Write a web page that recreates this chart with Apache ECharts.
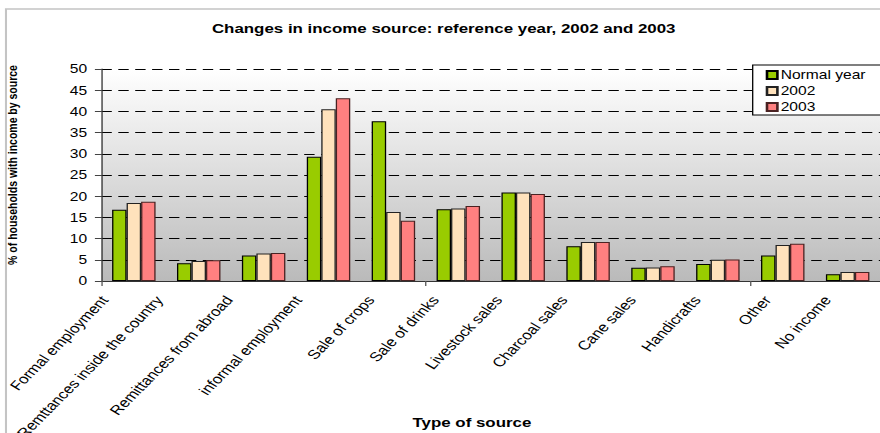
<!DOCTYPE html>
<html>
<head>
<meta charset="utf-8">
<script src="https://cdn.jsdelivr.net/npm/echarts@6/dist/echarts.min.js"></script>
<style>
  html, body { margin: 0; padding: 0; background: #fff; overflow: hidden; width: 880px; height: 433px; }
  /* the chart is laid out narrow and widened horizontally, like the printed figure */
  #chart { width: 677px; height: 433px; transform: scaleX(1.3); transform-origin: 0 0; }
</style>
</head>
<body>
<div id="chart"></div>
<script>
// Income sources (x categories)
const categories = [
  'Formal employment',
  'Remttances inside the country',
  'Remittances from abroad',
  'informal employment',
  'Sale of crops',
  'Sale of drinks',
  'Livestock sales',
  'Charcoal sales',
  'Cane sales',
  'Handicrafts',
  'Other',
  'No income'
];

// % of households with income by source
const normalYear = [16.8, 4.2, 6.0, 29.3, 37.7, 16.9, 20.9, 8.2, 3.1, 4.0, 6.0, 1.6];
const year2002   = [18.4, 4.7, 6.5, 40.5, 16.3, 17.1, 20.9, 9.2, 3.2, 5.0, 8.5, 2.1];
const year2003   = [18.7, 4.9, 6.6, 43.1, 14.2, 17.7, 20.5, 9.2, 3.5, 5.1, 8.8, 2.1];

const seriesNames = ['Normal year', '2002', '2003'];

// value axis ticks
const yMin = 0;
const yMax = 50;
const yStep = 5;

const FONT = '"Liberation Sans", Arial, Helvetica, sans-serif';
const STRETCH = 1.3;
const LABEL_ANGLE = 52.4 * Math.PI / 180;

const measureCtx = document.createElement('canvas').getContext('2d');
measureCtx.font = '13px ' + FONT;
function textWidth(s) { return measureCtx.measureText(s).width; }

// Slanted category names: placed under each category, sliding left a bit more the longer they are
function renderCategoryLabel(params, api) {
  const idx = api.value(0);
  const pt = api.coord([idx, 0]);
  const name = categories[idx];
  const slide = (10 + 0.17 * textWidth(name)) / STRETCH;
  return {
    type: 'text',
    x: pt[0] - slide,
    y: pt[1] + 16.5,
    rotation: LABEL_ANGLE,
    silent: true,
    style: {
      text: name,
      fontSize: 13,
      fontFamily: FONT,
      fill: '#000',
      align: 'right',
      verticalAlign: 'middle'
    }
  };
}

const chart = echarts.init(document.getElementById('chart'), null, { renderer: 'svg' });

chart.setOption({
  animation: false,
  backgroundColor: '#ffffff',
  textStyle: { fontFamily: FONT, color: '#000' },
  graphic: [{
    type: 'rect',
    z: -10,
    shape: { x: 4.6, y: 9, width: 720, height: 500 },
    style: { fill: 'none', stroke: '#c4c4c4', lineWidth: 1.6 }
  }],
  title: {
    text: 'Changes in income source: reference year, 2002 and 2003',
    left: 163,
    top: 22,
    padding: 0,
    textStyle: { fontFamily: FONT, fontSize: 13, fontWeight: 'bold', color: '#000' }
  },
  legend: {
    data: seriesNames,
    orient: 'vertical',
    left: 579,
    top: 65,
    itemWidth: 8,
    itemHeight: 8,
    itemGap: 4,
    icon: 'rect',
    padding: [4, 60, 2, 10],
    backgroundColor: '#ffffff',
    borderColor: '#000000',
    borderWidth: 1,
    borderRadius: 0,
    textStyle: { fontFamily: FONT, fontSize: 12, color: '#000', padding: [0, 0, 0, -2.5] }
  },
  grid: {
    left: 78,
    right: 0,
    top: 69,
    bottom: 152,
    containLabel: false,
    outerBoundsMode: 'none',
    show: true,
    borderWidth: 0,
    backgroundColor: {
      type: 'linear', x: 0, y: 0, x2: 0, y2: 1,
      colorStops: [
        { offset: 0, color: '#ffffff' },
        { offset: 1, color: '#bababa' }
      ]
    }
  },
  xAxis: {
    type: 'category',
    data: categories,
    name: 'Type of source',
    nameLocation: 'middle',
    nameGap: 135,
    nameTextStyle: { fontFamily: FONT, fontSize: 13, fontWeight: 'bold', color: '#000', padding: [0, 29, 0, 0] },
    axisLine: { lineStyle: { color: '#333', width: 1 } },
    axisTick: { show: true, length: 5, lineStyle: { color: '#555' } },
    axisLabel: { show: false },
    splitLine: { show: false }
  },
  yAxis: {
    type: 'value',
    min: yMin,
    max: yMax,
    interval: yStep,
    name: '% of households with income by source',
    nameLocation: 'middle',
    nameGap: 63,
    nameTextStyle: { fontFamily: FONT, fontSize: 10.5, fontWeight: 'bold', color: '#000', padding: [0, 0, 0, 20] },
    axisLine: { show: true, lineStyle: { color: '#333', width: 1 } },
    axisTick: { show: true, length: 5, lineStyle: { color: '#444' } },
    axisLabel: { margin: 11, fontSize: 12, color: '#000', fontFamily: FONT },
    splitLine: { show: true, lineStyle: { color: '#000', width: 1, type: [8, 5] } }
  },
  series: [
    {
      name: seriesNames[0], type: 'bar', data: normalYear,
      barGap: '0%', barCategoryGap: '33%',
      itemStyle: { color: '#99cc00', borderColor: '#000', borderWidth: 1 }
    },
    {
      name: seriesNames[1], type: 'bar', data: year2002,
      barGap: '0%', barCategoryGap: '33%',
      itemStyle: { color: '#ffe2bc', borderColor: '#222', borderWidth: 1 }
    },
    {
      name: seriesNames[2], type: 'bar', data: year2003,
      barGap: '0%', barCategoryGap: '33%',
      itemStyle: { color: '#ff8080', borderColor: '#4a2222', borderWidth: 1 }
    },
    {
      name: 'categoryLabels',
      type: 'custom',
      data: categories.map(function (c) { return [c]; }),
      encode: { x: 0 },
      clip: false,
      silent: true,
      renderItem: renderCategoryLabel
    }
  ]
});
</script>
</body>
</html>
